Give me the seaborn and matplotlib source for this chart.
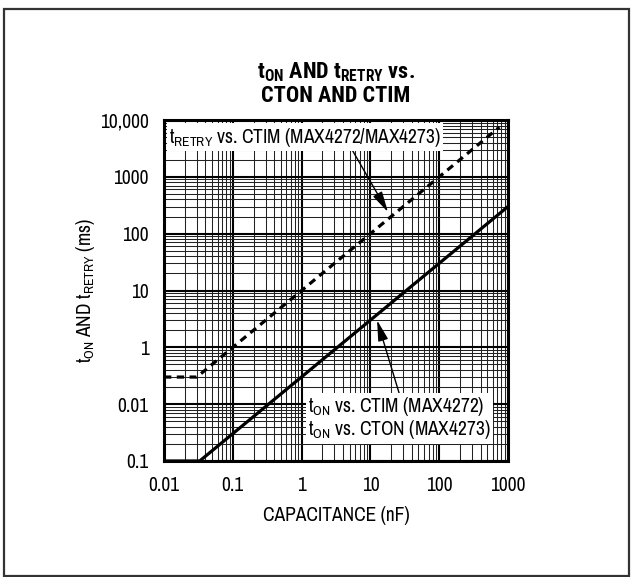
import numpy as np
import matplotlib
matplotlib.use("Agg")
import matplotlib.pyplot as plt
import matplotlib.ticker as mticker
from matplotlib.patches import Rectangle
import seaborn as sns

# values (log-log)
cap_on = [0.01, 0.033, 1000]        # nF
t_on = [0.01, 0.01, 300]            # ms
cap_retry = [0.01, 0.03, 750]       # nF
t_retry = [0.3, 0.3, 7500]          # ms

x_ticks = [0.01, 0.1, 1, 10, 100, 1000]
x_labels = ["0.01", "0.1", "1", "10", "100", "1000"]
y_ticks = [0.01, 0.1, 1, 10, 100, 1000, 10000]
# labels as printed on the original (bottom two are swapped there)
y_labels = ["0.1", "0.01", "1", "10", "100", "1000", "10,000"]

sns.set_theme(style="white")
font = ["Archivo Narrow", "Liberation Sans", "DejaVu Sans"]
bold_font = ["Roboto Condensed", "Barlow Condensed", "Liberation Sans", "DejaVu Sans"]
plt.rcParams["font.family"] = font
plt.rcParams["text.color"] = "black"
plt.rcParams["axes.labelcolor"] = "black"
plt.rcParams["mathtext.fontset"] = "custom"
plt.rcParams["mathtext.rm"] = "Archivo Narrow"
plt.rcParams["mathtext.it"] = "Archivo Narrow"
plt.rcParams["mathtext.bf"] = "Roboto Condensed:bold"

fig = plt.figure(figsize=(6.32, 5.77), dpi=100)
ax = fig.add_axes([164 / 632, 1 - 461 / 577, 344 / 632, 341 / 577])

ax.set_xscale("log")
ax.set_yscale("log")
ax.set_xlim(0.01, 1000)
ax.set_ylim(0.01, 10000)

# grid
ax.xaxis.set_minor_locator(mticker.LogLocator(base=10, subs=np.arange(2, 10)))
ax.yaxis.set_minor_locator(mticker.LogLocator(base=10, subs=np.arange(2, 10)))
ax.grid(which="major", color="black", linewidth=1.5)
ax.grid(which="minor", color="#222222", linewidth=0.75)
ax.set_axisbelow(True)

sns.lineplot(x=cap_on, y=t_on, ax=ax, color="black", linewidth=2.3, sort=False)
sns.lineplot(x=cap_retry, y=t_retry, ax=ax, color="black", linewidth=2.3,
             linestyle=(0, (2.3, 1.7)), sort=False)

ax.set_xticks(x_ticks)
ax.set_xticklabels(x_labels)
ax.set_yticks(y_ticks)
ax.set_yticklabels(y_labels)
ax.xaxis.set_minor_formatter(mticker.NullFormatter())
ax.yaxis.set_minor_formatter(mticker.NullFormatter())
ax.tick_params(which="both", length=0, labelsize=14, colors="black", pad=11)

for sp in ax.spines.values():
    sp.set_color("black")
    sp.set_linewidth(2.2)

ax.set_xlabel("CAPACITANCE (nF)", fontsize=14, labelpad=8)
ax.set_ylabel(r"t$_{\mathrm{ON}}$ AND t$_{\mathrm{RETRY}}$ (ms)", fontsize=14)
ax.yaxis.set_label_coords(-0.195, 0.5)

ax.set_title("t$_{\\mathbf{ON}}$ AND t$_{\\mathbf{RETRY}}$ vs.\nCTON AND CTIM",
             fontsize=16, fontweight="bold", family=bold_font, pad=13,
             linespacing=1.05)

box = dict(facecolor="white", edgecolor="none", pad=1.5)
arrow = dict(arrowstyle="-|>,head_length=0.9,head_width=0.22", color="black",
             lw=1.0, shrinkA=0, shrinkB=0)

ax.annotate(r"t$_{\mathrm{RETRY}}$ vs. CTIM (MAX4272/MAX4273)",
            xy=(18, 240), xycoords="data",
            xytext=(0.015, 0.95), textcoords="axes fraction",
            ha="left", va="center", fontsize=14, bbox=box,
            arrowprops=dict(arrow, relpos=(0.67, 0.0)), zorder=5)

ax.annotate("t$_{\\mathrm{ON}}$ vs. CTIM (MAX4272)\nt$_{\\mathrm{ON}}$ vs. CTON (MAX4273)",
            xy=(12.5, 3.0), xycoords="data",
            xytext=(0.42, 0.125), textcoords="axes fraction",
            ha="left", va="center", fontsize=14, bbox=box, linespacing=1.0,
            arrowprops=dict(arrow, relpos=(0.5, 1.0)), zorder=5)

# outer frame of the figure
fig.patches.append(Rectangle((4 / 632, 1 / 577), 625 / 632, 567 / 577,
                             transform=fig.transFigure, fill=False,
                             edgecolor="#333333", linewidth=1.6))

fig.savefig("out.png", dpi=100)
